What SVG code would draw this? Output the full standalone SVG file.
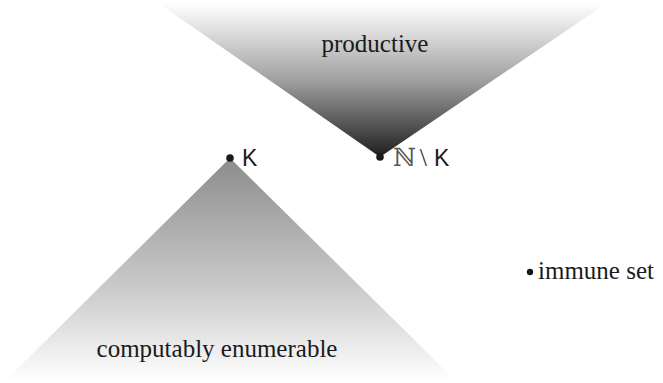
<svg xmlns="http://www.w3.org/2000/svg" width="663" height="383" viewBox="0 0 663 383">
<defs>
<linearGradient id="gTop" x1="0" y1="0" x2="0" y2="1">
<stop offset="0" stop-color="#ffffff"/>
<stop offset="0.15" stop-color="#e4e4e4"/>
<stop offset="0.5" stop-color="#a0a0a0"/>
<stop offset="1" stop-color="#1e1e1e"/>
</linearGradient>
<linearGradient id="gBot" x1="0" y1="0" x2="0" y2="1">
<stop offset="0" stop-color="#8c8c8c"/>
<stop offset="0.6" stop-color="#cccccc"/>
<stop offset="1" stop-color="#ffffff"/>
</linearGradient>
</defs>
<style>
.serif{font-family:"Liberation Serif","Times New Roman",serif;font-size:25px;fill:#1a1a1a}
.sans{font-family:"Liberation Sans",Arial,sans-serif;font-size:23px;fill:#1a1a1a}
.dot{fill:#1a1a1a}
</style>
<rect width="663" height="383" fill="#ffffff"/>
<g id="productive">
<polygon points="158,3 607,3 380,157" fill="url(#gTop)"/>
<text class="serif" x="375" y="52" text-anchor="middle">productive</text>
</g>
<g id="ce">
<polygon points="230,158 456,381 5,381" fill="url(#gBot)"/>
<text class="serif" x="217" y="357" text-anchor="middle">computably enumerable</text>
</g>
<g id="K">
<circle class="dot" cx="230" cy="158" r="3.8"/>
<text class="sans" x="242" y="166">K</text>
</g>
<g id="NK">
<circle class="dot" cx="380" cy="157" r="3.8"/>
<text class="sans" x="393" y="166"><tspan font-family="DejaVu Serif, serif" font-size="25" fill="#555">ℕ</tspan><tspan font-family="Liberation Serif, serif" font-size="26" dx="4" fill="#333">\</tspan><tspan dx="7">K</tspan></text>
</g>
<g id="immune">
<circle class="dot" cx="530" cy="272" r="3.2"/>
<text class="serif" x="538" y="279">immune set</text>
</g>
</svg>
